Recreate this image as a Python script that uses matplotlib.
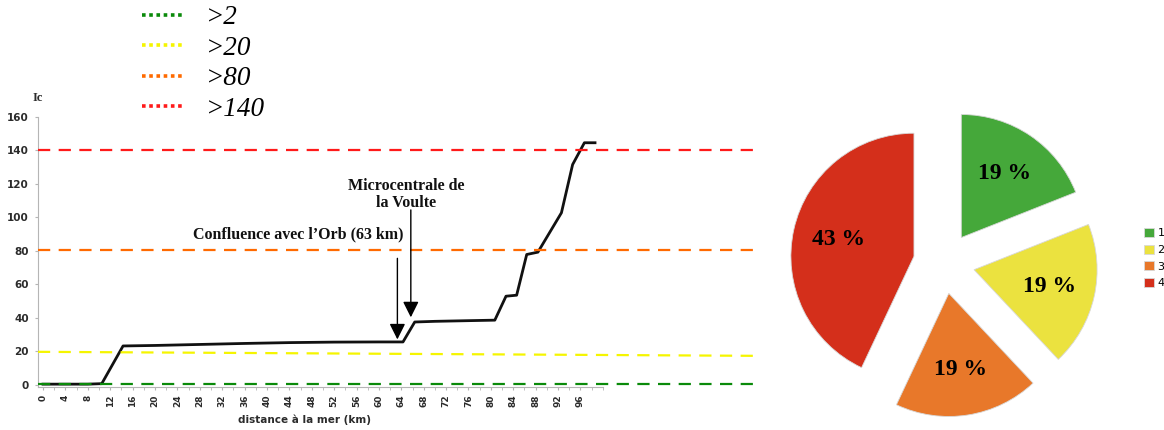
import numpy as np
import matplotlib
matplotlib.use("Agg")
import matplotlib.pyplot as plt
from matplotlib.lines import Line2D

# Ic profile along the river, by distance to the sea
distance_km = [0, 2, 4, 6, 8, 10.5, 14.3, 20, 28, 36, 44, 52, 60, 64.3, 66.4,
               70, 76, 80.7, 82.7, 84.6, 86.4, 88.4, 92.6, 94.6, 96.7, 98.6]
ic_values = [0.5, 0.5, 0.5, 0.5, 0.5, 0.8, 23.3, 23.6, 24.2, 24.8, 25.3, 25.6,
             25.7, 25.7, 37.6, 38.0, 38.4, 38.7, 53.0, 53.6, 77.9, 79.3, 102.8,
             131.6, 144.6, 144.6]

# Class thresholds (level at left end, level at right end)
threshold_labels = [">2", ">20", ">80", ">140"]
threshold_start = [0.8, 19.8, 80.5, 140.0]
threshold_end = [0.8, 17.4, 80.5, 140.0]
threshold_colors = ["#0a8a0a", "#f5f500", "#ff6a00", "#ff1a1a"]

# Annotated points on the profile
notes = ["Confluence avec l\u2019Orb (63 km)", "Microcentrale de\nla Voulte"]
note_tip = [(63.3, 27.2), (65.7, 40.4)]
note_tail = [(63.3, 75.6), (65.7, 104.5)]
note_text_pos = [(45.6, 85.0), (64.9, 103.6)]

# Share of the river length in each class
pie_values = [19, 19, 19, 43]
pie_labels = ["1", "2", "3", "4"]
pie_colors = ["#45a83a", "#ebe23f", "#e8782a", "#d42f1b"]

serif = "Liberation Serif"
axis_grey = "#b5b5b5"
text_grey = "#2b2b2b"

fig = plt.figure(figsize=(11.64, 4.30), dpi=100)

# ---- profile chart ----
ax = fig.add_axes([0.0326, 0.1, 0.620, 0.628])
ax.set_xlim(-0.9, 128)
ax.set_ylim(-1.2, 160)

ax.plot(distance_km, ic_values, color="#111111", lw=2.0, zorder=2,
        solid_joinstyle="round")

line_span = (-0.9, 127.5)
for y0, y1, c in zip(threshold_start, threshold_end, threshold_colors):
    ax.plot(line_span, [y0, y1], color=c, lw=1.6, ls=(0, (5.5, 3.8)), zorder=3)

for txt, tip, tail, pos in zip(notes, note_tip, note_tail, note_text_pos):
    ax.annotate("", xy=tip, xytext=tail,
                arrowprops=dict(arrowstyle="-|>,head_length=0.8,head_width=0.4",
                                mutation_scale=12, color="black", lw=1.0,
                                shrinkA=0, shrinkB=0))
    ax.text(pos[0], pos[1], txt, ha="center", va="bottom", family=serif,
            fontweight="bold", fontsize=11.5, linespacing=1.15, color="#111111")

for side in ("top", "right"):
    ax.spines[side].set_visible(False)
ax.spines["left"].set_color(axis_grey)
ax.spines["bottom"].set_color(axis_grey)
ax.spines["left"].set_bounds(-1.2, 160)
ax.spines["bottom"].set_bounds(-0.9, 100)

ax.set_xticks(np.arange(0, 97, 4))
ax.set_xticks(np.arange(0, 101, 2), minor=True)
ax.set_yticks(np.arange(0, 161, 20))
ax.tick_params(axis="x", which="both", length=2.5, color=axis_grey, pad=3,
               labelrotation=90, labelsize=6.5, labelcolor=text_grey)
ax.tick_params(axis="y", length=2.5, color=axis_grey, pad=4,
               labelsize=7.5, labelcolor=text_grey)
for lab in ax.get_xticklabels() + ax.get_yticklabels():
    lab.set_fontweight("bold")

ax.set_xlabel("distance \u00e0 la mer (km)", fontsize=7.5, fontweight="bold",
              color=text_grey)
ax.xaxis.set_label_coords(0.37, -0.10)
ax.text(-1.8, 168, "Ic", family=serif, fontweight="bold", fontsize=9,
        color=text_grey, ha="left", va="bottom", clip_on=False)

# threshold key at the top
key_handles = [Line2D([], [], color=c, lw=2.6, ls=(0, (1, 1)),
                      dash_capstyle="butt") for c in threshold_colors]
fig.legend(key_handles, threshold_labels, loc="upper left",
           bbox_to_anchor=(142 / 1164, 1 - 5.5 / 430), frameon=False,
           borderpad=0, borderaxespad=0,
           handlelength=1.51, handletextpad=0.85, labelspacing=0.2,
           prop=dict(family=serif, style="italic", size=19.5))

# ---- pie of class shares ----
pax = fig.add_axes([784 / 1164, 7 / 430, 320 / 1164, 320 / 430])
wedges, _, autotexts = pax.pie(
    pie_values, colors=pie_colors, explode=[0.25] * len(pie_values),
    startangle=90, counterclock=False, radius=1.0,
    autopct=lambda p: f"{p:.0f} %", pctdistance=0.63,
    wedgeprops=dict(edgecolor="#d8d8d8", linewidth=0.6),
    textprops=dict(family=serif, fontweight="bold", fontsize=17, color="black"))
pax.set_xlim(-1.3, 1.3)
pax.set_ylim(-1.3, 1.3)
pax.set_aspect("equal")
pax.axis("off")

fig.legend(wedges, pie_labels, loc="center left",
           bbox_to_anchor=(1138 / 1164, (430 - 258) / 430), frameon=False,
           handlelength=0.9, handleheight=0.9, handletextpad=0.35,
           labelspacing=0.55, borderpad=0, fontsize=8)

fig.savefig("out.png", dpi=100, facecolor="white")
